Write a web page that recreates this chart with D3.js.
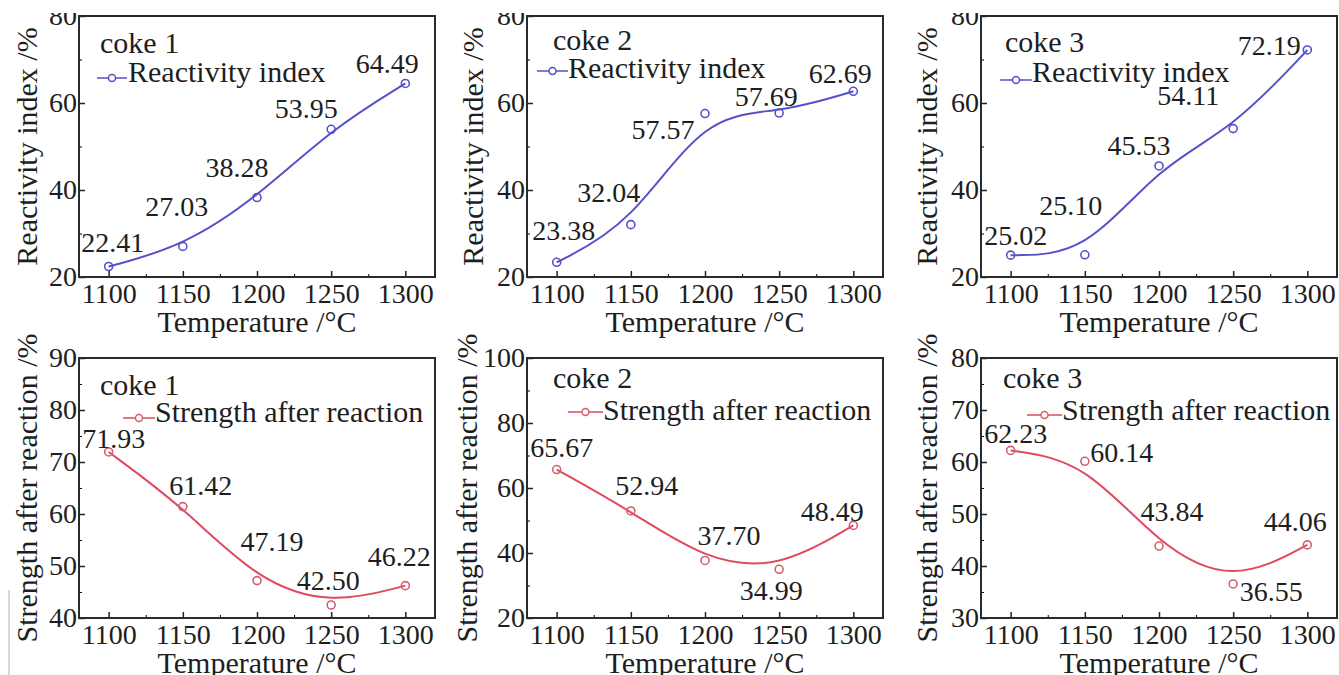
<!DOCTYPE html>
<html>
<head>
<meta charset="utf-8">
<script src="https://cdn.jsdelivr.net/npm/d3@7"></script>
<style>
  body { margin: 0; background: #fff; }
  svg { display: block; }
  svg text { fill: #1e1e1e; }
</style>
</head>
<body>
<svg id="chart" width="1339" height="675"></svg>
<script>
// ---- data ----
const temperatures = [1100, 1150, 1200, 1250, 1300];
const tempTicks = [1100, 1150, 1200, 1250, 1300];
const cokeNames = ["coke 1", "coke 2", "coke 3"];

const reactivity1 = [22.41, 27.03, 38.28, 53.95, 64.49];
const reactivity2 = [23.38, 32.04, 57.57, 57.69, 62.69];
const reactivity3 = [25.02, 25.10, 45.53, 54.11, 72.19];

const strength1 = [71.93, 61.42, 47.19, 42.50, 46.22];
const strength2 = [65.67, 52.94, 37.70, 34.99, 48.49];
const strength3 = [62.23, 60.14, 43.84, 36.55, 44.06];

const reactivityDomain = [20, 80];
const reactivityTicks = [20, 40, 60, 80];
const strengthDomains = [[40, 90], [20, 100], [30, 80]];
const strengthTicks = [
    [40, 50, 60, 70, 80, 90],
    [20, 40, 60, 80, 100],
    [30, 40, 50, 60, 70, 80]
];

// ---- layout ----
const FONT = "'Liberation Serif', 'Times New Roman', Times, 'Nimbus Roman', 'Nimbus Roman No9 L', FreeSerif, 'Noto Serif', 'DejaVu Serif', Tinos, serif";
const colLeft = [79, 527, 981];
const rowTop = [16, 358];
const rowHeight = [261, 260];
const plotWidth = 356;
const xDomain = [1080, 1320];

const blue = "#5551c9";
const red = "#e04a5e";
const redMarker = "#d2606f";

// label offsets (dx, dy) from each point, per panel
const labelOffsets = [
    [[4, -15], [-6, -30], [-20, -20], [-25, -11], [-18, -10]],
    [[7, -22], [-22, -23], [-42, 25], [-13, -7], [-13, -8]],
    [[5, -10], [-14, -40], [-20, -11], [-45, -24], [-38, 5]],
    [[5, -4], [18, -12], [15, -30], [-3, -15], [-6, -20]],
    [[5, -13], [16, -16], [24, -15], [-8, 31], [-21, -4]],
    [[5, -7], [37, 1], [13, -25], [38, 17], [-12, -14]]
];

// legend placement relative to plot corner: name, line x1/x2/y, text x/y
const legendPos = [
    { nx: 21, ny: 37, lx1: 18, lx2: 48, ly: 62, tx: 49, ty: 66 },
    { nx: 26, ny: 34, lx1: 10, lx2: 41, ly: 55, tx: 41, ty: 62 },
    { nx: 24, ny: 36, lx1: 19, lx2: 51, ly: 64, tx: 51, ty: 66 },
    { nx: 21, ny: 37, lx1: 44, lx2: 76, ly: 60, tx: 76, ty: 64 },
    { nx: 26, ny: 30, lx1: 41, lx2: 76, ly: 54, tx: 76, ty: 62 },
    { nx: 22, ny: 30, lx1: 46, lx2: 81, ly: 57, tx: 81, ty: 62 }
];

const yTitleOffset = [42, 44, 44, 42, 50, 44];

const reactivitySeries = [reactivity1, reactivity2, reactivity3];
const strengthSeries = [strength1, strength2, strength3];

const panels = [];
reactivitySeries.forEach((vals, i) => panels.push({
    row: 0, col: i, values: vals, domain: reactivityDomain, ticks: reactivityTicks,
    name: cokeNames[i], legend: "Reactivity index", yTitle: "Reactivity index /%",
    line: blue, marker: blue
}));
strengthSeries.forEach((vals, i) => panels.push({
    row: 1, col: i, values: vals, domain: strengthDomains[i], ticks: strengthTicks[i],
    name: cokeNames[i], legend: "Strength after reaction", yTitle: "Strength after reaction /%",
    line: red, marker: redMarker
}));

const svg = d3.select("#chart");

panels.forEach((p, k) => {

    const left = colLeft[p.col];
    const top = rowTop[p.row];
    const h = rowHeight[p.row];

    const g = svg.append("g")
        .attr("transform", `translate(${left},${top})`)
        .style("font-family", FONT);

    const x = d3.scaleLinear().domain(xDomain).range([0, plotWidth]);
    const y = d3.scaleLinear().domain(p.domain).range([h, 0]);

    const step = p.ticks[1] - p.ticks[0];
    const yMinor = d3.range(p.domain[0] + step / 2, p.domain[1], step);
    const xMinor = d3.range(1125, 1300, 50);

    // minor ticks
    g.append("g")
        .attr("transform", `translate(0,${h})`)
        .call(d3.axisBottom(x).tickValues(xMinor).tickSize(-3).tickFormat(""))
        .call(a => a.select(".domain").remove());
    g.append("g")
        .call(d3.axisLeft(y).tickValues(yMinor).tickSize(-3).tickFormat(""))
        .call(a => a.select(".domain").remove());

    // major ticks + labels
    const xAxis = g.append("g")
        .attr("transform", `translate(0,${h})`)
        .call(d3.axisBottom(x).tickValues(tempTicks).tickSize(-6).tickPadding(6).tickFormat(d3.format("d")));
    const yAxis = g.append("g")
        .call(d3.axisLeft(y).tickValues(p.ticks).tickSize(-6).tickPadding(2).tickFormat(d3.format("d")));

    [xAxis, yAxis].forEach(a => {
        a.attr("font-family", null).attr("font-size", null);
        a.select(".domain").remove();
        a.selectAll("text").style("font-size", "28px").style("font-family", FONT).style("fill", "#1e1e1e");
        a.selectAll("line").attr("stroke", "#222").attr("stroke-width", 1.5);
    });

    // frame
    g.append("rect")
        .attr("width", plotWidth)
        .attr("height", h)
        .attr("fill", "none")
        .attr("stroke", "#2a2a2a")
        .attr("stroke-width", 2);

    // axis titles
    g.append("text")
        .attr("x", plotWidth / 2)
        .attr("y", h + 55)
        .attr("text-anchor", "middle")
        .style("font-size", "30px")
        .text("Temperature /\u00B0C");

    g.append("text")
        .attr("transform", `translate(${-yTitleOffset[k]},${h / 2}) rotate(-90)`)
        .attr("text-anchor", "middle")
        .style("font-size", "30px")
        .text(p.yTitle);

    // smoothed curve
    const pts = temperatures.map((t, i) => [x(t), y(p.values[i])]);
    g.append("path")
        .attr("d", d3.line().curve(d3.curveBasis)(pts))
        .attr("fill", "none")
        .attr("stroke", p.line)
        .attr("stroke-width", 2);

    // markers
    g.selectAll("circle.pt")
        .data(pts)
        .enter()
        .append("circle")
        .attr("class", "pt")
        .attr("cx", d => d[0])
        .attr("cy", d => d[1])
        .attr("r", 4)
        .attr("fill", "none")
        .attr("stroke", p.marker)
        .attr("stroke-width", 1.6);

    // value labels
    g.selectAll("text.val")
        .data(p.values)
        .enter()
        .append("text")
        .attr("class", "val")
        .attr("x", (d, i) => pts[i][0] + labelOffsets[k][i][0])
        .attr("y", (d, i) => pts[i][1] + labelOffsets[k][i][1])
        .attr("text-anchor", "middle")
        .style("font-size", "28px")
        .text(d => d.toFixed(2));

    // legend
    const lp = legendPos[k];
    g.append("text")
        .attr("x", lp.nx)
        .attr("y", lp.ny)
        .style("font-size", "30px")
        .text(p.name);
    g.append("line")
        .attr("x1", lp.lx1).attr("x2", lp.lx2)
        .attr("y1", lp.ly).attr("y2", lp.ly)
        .attr("stroke", p.line)
        .attr("stroke-width", 1.5);
    g.append("circle")
        .attr("cx", (lp.lx1 + lp.lx2) / 2)
        .attr("cy", lp.ly)
        .attr("r", 3.5)
        .attr("fill", "#fff")
        .attr("stroke", p.marker)
        .attr("stroke-width", 1.5);
    g.append("text")
        .attr("x", lp.tx)
        .attr("y", lp.ty)
        .style("font-size", "30px")
        .text(p.legend);
});

// the source image is cropped at the top
svg.append("rect")
    .attr("width", 1339)
    .attr("height", 13)
    .attr("fill", "#fff");

// thin scan edge at lower left
svg.append("line")
    .attr("x1", 9).attr("x2", 9)
    .attr("y1", 590).attr("y2", 675)
    .attr("stroke", "#b5b5b5")
    .attr("stroke-width", 1);
</script>
</body>
</html>
